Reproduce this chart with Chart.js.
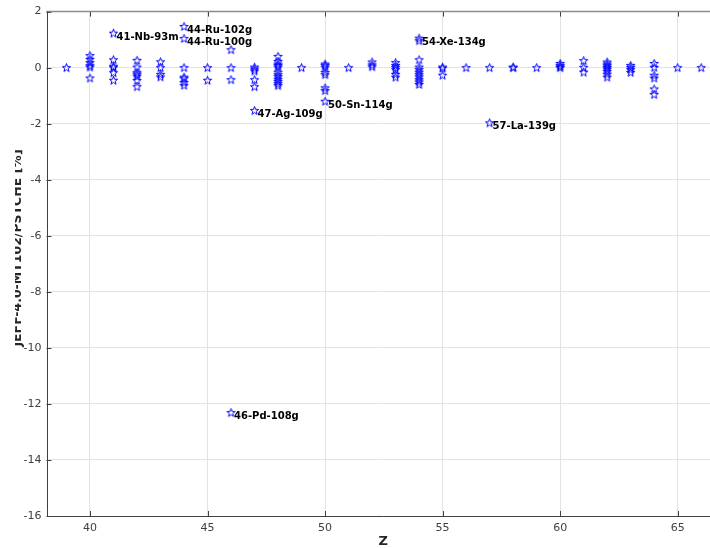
<!DOCTYPE html>
<html lang="en">
<head>
    <meta charset="UTF-8">
    <title>Capture deviation vs Z</title>
    <script src="https://cdn.jsdelivr.net/npm/chart.js"></script>
    <style>
        html, body { margin: 0; padding: 0; overflow: hidden; background: #fff; }
        #zChart { display: block; }
    </style>
</head>
<body>
    <canvas id="zChart" width="726" height="548"></canvas>

    <script>
        // deviation [%] per element Z, one list per column
        const zColumns = [39, 40, 41, 42, 43, 44, 45, 46, 47, 48, 49, 50, 51, 52,
                          53, 54, 55, 56, 57, 58, 59, 60, 61, 62, 63, 64, 65, 66];
        const deviations = [
            [0],
            [0.43, 0.3, 0.18, 0.07, 0.02, -0.37],
            [0.28, 0.05, 0, -0.18, -0.45],
            [0.26, 0.02, -0.18, -0.23, -0.3, -0.46, -0.68],
            [0.21, 0, -0.24, -0.33],
            [0, -0.34, -0.39, -0.53, -0.63],
            [0, -0.45],
            [0.64, 0, -0.43],
            [0.02, -0.05, -0.12, -0.43, -0.68],
            [0.4, 0.22, 0.13, 0.08, 0.02, -0.16, -0.25, -0.32, -0.41, -0.49, -0.57, -0.64],
            [0],
            [0.13, 0.08, 0.02, -0.17, -0.25, -0.72, -0.82],
            [0],
            [0.2, 0.1, 0.03],
            [0.18, 0.08, 0.01, -0.07, -0.24, -0.34],
            [0.96, 0.28, 0.02, -0.07, -0.16, -0.25, -0.33, -0.43, -0.51, -0.6],
            [0.02, -0.02, -0.27],
            [0],
            [0],
            [0.02, 0],
            [0],
            [0.15, 0.08, 0.03, 0],
            [0.25, 0.01, -0.16],
            [0.2, 0.13, 0.07, 0.01, -0.05, -0.13, -0.23, -0.34],
            [0.08, 0.01, -0.07, -0.17],
            [0.15, 0.01, -0.27, -0.37, -0.76, -0.96],
            [0],
            [0]
        ];

        // annotated isotopes
        const labelNames  = ['41-Nb-93m', '44-Ru-102g', '44-Ru-100g', '46-Pd-108g',
                             '47-Ag-109g', '50-Sn-114g', '54-Xe-134g', '57-La-139g'];
        const labelZ      = [41, 44, 44, 46, 47, 50, 54, 57];
        const labelValues = [1.23, 1.47, 1.04, -12.31, -1.53, -1.2, 1.05, -1.97];

        const xTicks = [40, 45, 50, 55, 60, 65];
        const yTicks = [2, 0, -2, -4, -6, -8, -10, -12, -14, -16];

        const xTitle = 'Z';
        const yTitle = 'JEFF-4.0-MT102/PSTCHE [%]';

        // matlab-like pentagram marker
        function makeStar() {
            const c = document.createElement('canvas');
            c.width = 11; c.height = 11;
            const g = c.getContext('2d');
            g.strokeStyle = '#0000ff';
            g.lineWidth = 1;
            g.beginPath();
            for (let i = 0; i < 10; i++) {
                const r = i % 2 === 0 ? 4.4 : 1.8;
                const a = -Math.PI / 2 + i * Math.PI / 5;
                const px = 5.5 + r * Math.cos(a), py = 5.8 + r * Math.sin(a);
                if (i === 0) g.moveTo(px, py); else g.lineTo(px, py);
            }
            g.closePath();
            g.stroke();
            return c;
        }
        const starImg = makeStar();

        const points = [];
        zColumns.forEach((z, i) => deviations[i].forEach(v => points.push({ x: z, y: v })));
        labelZ.forEach((z, i) => points.push({ x: z, y: labelValues[i] }));

        const decorations = {
            id: 'decorations',
            afterDraw(chart) {
                const ctx = chart.ctx;
                const a = chart.chartArea;
                const xs = chart.scales.x, ys = chart.scales.y;
                ctx.save();

                // inward ticks
                ctx.strokeStyle = '#404040';
                ctx.lineWidth = 1;
                ctx.beginPath();
                xTicks.forEach(t => {
                    const px = Math.round(xs.getPixelForValue(t)) + 0.5;
                    ctx.moveTo(px, a.bottom); ctx.lineTo(px, a.bottom - 5);
                    ctx.moveTo(px, a.top); ctx.lineTo(px, a.top + 5);
                });
                yTicks.forEach(t => {
                    const py = Math.round(ys.getPixelForValue(t)) + 0.5;
                    ctx.moveTo(a.left, py); ctx.lineTo(a.left + 5, py);
                });
                ctx.stroke();

                // box
                ctx.strokeStyle = '#8c8c8c';
                ctx.lineWidth = 1.5;
                ctx.beginPath();
                ctx.moveTo(a.left, a.top); ctx.lineTo(a.right, a.top);
                ctx.stroke();
                ctx.strokeStyle = '#404040';
                ctx.lineWidth = 1;
                ctx.beginPath();
                ctx.moveTo(Math.round(a.left) + 0.5, a.top);
                ctx.lineTo(Math.round(a.left) + 0.5, Math.round(a.bottom) + 0.5);
                ctx.lineTo(a.right, Math.round(a.bottom) + 0.5);
                ctx.stroke();

                // isotope labels
                ctx.fillStyle = '#000';
                ctx.font = 'bold 10px "DejaVu Sans"';
                ctx.textAlign = 'left';
                ctx.textBaseline = 'middle';
                labelNames.forEach((name, i) => {
                    const px = xs.getPixelForValue(labelZ[i]);
                    const py = ys.getPixelForValue(labelValues[i]);
                    ctx.fillText(name, px + 3, py + 4);
                });

                // axis titles
                ctx.fillStyle = '#262626';
                ctx.font = 'bold 13px "DejaVu Sans"';
                ctx.textAlign = 'center';
                ctx.textBaseline = 'alphabetic';
                ctx.fillText(xTitle, (a.left + a.right) / 2, 545);

                ctx.font = 'bold 12.5px "DejaVu Sans"';
                ctx.beginPath();
                ctx.rect(15, 0, 100, chart.height);
                ctx.clip();
                ctx.translate(21, 248);
                ctx.rotate(-Math.PI / 2);
                ctx.fillText(yTitle, 0, 0);
                ctx.restore();
            }
        };

        const ctx = document.getElementById('zChart').getContext('2d');
        new Chart(ctx, {
            type: 'scatter',
            data: {
                datasets: [{
                    label: 'deviation',
                    data: points,
                    pointStyle: starImg,
                    pointRadius: 5,
                    borderColor: '#0000ff',
                    backgroundColor: 'rgba(0,0,0,0)'
                }]
            },
            options: {
                responsive: false,
                animation: false,
                layout: { padding: { top: 9, right: 2, left: 0, bottom: 0 } },
                plugins: {
                    legend: { display: false },
                    tooltip: { enabled: false }
                },
                scales: {
                    x: {
                        type: 'linear',
                        min: 38.15,
                        max: 66.8,
                        afterBuildTicks: s => { s.ticks = xTicks.map(v => ({ value: v })); },
                        afterFit: s => { s.height = 32; },
                        grid: { color: '#e3e3e3', drawTicks: false },
                        border: { display: false },
                        ticks: {
                            padding: 6,
                            color: '#404040',
                            font: { family: 'DejaVu Sans', size: 11 }
                        }
                    },
                    y: {
                        type: 'linear',
                        min: -16,
                        max: 2,
                        afterBuildTicks: s => { s.ticks = yTicks.map(v => ({ value: v })); },
                        afterFit: s => { s.width = 46.5; },
                        grid: { color: '#e3e3e3', drawTicks: false },
                        border: { display: false },
                        ticks: {
                            padding: 5,
                            color: '#404040',
                            font: { family: 'DejaVu Sans', size: 11 }
                        }
                    }
                }
            },
            plugins: [decorations]
        });
    </script>
</body>
</html>
